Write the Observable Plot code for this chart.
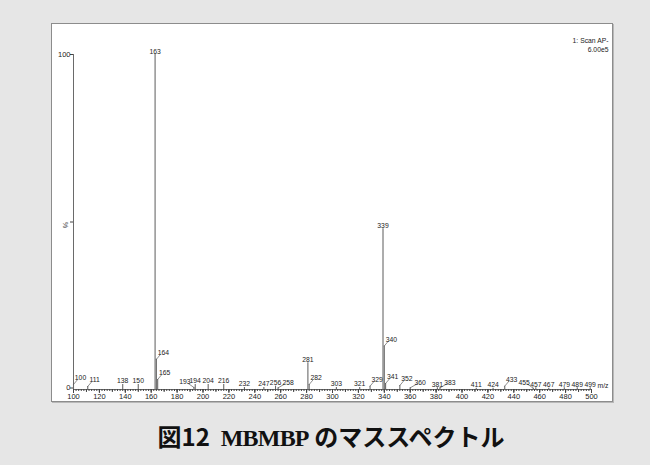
<!DOCTYPE html>
<html>
<head>
<meta charset="utf-8">
<script src="https://cdn.jsdelivr.net/npm/d3@7"></script>
<script src="https://cdn.jsdelivr.net/npm/@observablehq/plot@0.6"></script>
<style>
  html, body { margin: 0; padding: 0; }
  body { width: 650px; height: 465px; background: #e6e6e6; position: relative; overflow: hidden; }
  #panel {
    position: absolute; left: 51px; top: 23px; width: 560px; height: 377px;
    background: #fff; border: 1px solid #8c8c8c; box-shadow: 1px 1px 0 #b8b8b8;
  }
  #panel svg { display: block; }
  #title {
    position: absolute; left: 6px; top: 421px; width: 650px; text-align: center;
    font-family: "Noto Sans CJK JP", sans-serif; font-weight: 700; font-size: 24px; color: #111;
    line-height: 30px;
  }
  #title .lat { font-family: "Liberation Serif", serif; font-weight: 700; letter-spacing: -0.8px; }
</style>
</head>
<body>
<div id="panel"></div>
<div id="title">図12&nbsp;&nbsp;<span class="lat">MBMBP</span> のマススペクトル</div>
<script>
// Mass spectrum of MBMBP: m/z of each labelled peak and its relative intensity (%)
const mz = [100, 111, 138, 150, 163, 164, 165, 193, 194, 204, 216, 232, 247, 256, 258,
            281, 282, 303, 321, 329, 339, 340, 341, 352, 360, 381, 383, 411, 424, 433,
            455, 457, 467, 479, 489, 499];
const intensity = [1.5, 0.9, 1.5, 1.5, 100, 9, 3, 0.6, 1.5, 1.5, 1.5, 0.6, 0.6, 1, 0.5,
                   8, 1.5, 0.6, 0.6, 1, 48, 13, 1.8, 1.2, 0.5, 0.5, 0.5, 0.4, 0.4, 1,
                   0.4, 0.5, 0.4, 0.5, 0.5, 0.5];
const xTicks = [100, 120, 140, 160, 180, 200, 220, 240, 260, 280, 300,
                320, 340, 360, 380, 400, 420, 440, 460, 480, 500];
const yTicks = [0, 100];
const scanInfo = ["1: Scan AP-", "6.00e5"];

const peaks = mz.map((m, i) => ({mz: m, value: intensity[i]}));

// peaks whose labels are pushed aside and joined to the peak by a short leader
const leadRight = new Set([100, 111, 164, 165, 282, 329, 340, 341, 352, 433]);
const leadFarRight = new Set([258, 360, 383]);
const leadLeft = new Set([193, 455]);
const isLed = d => leadRight.has(d.mz) || leadFarRight.has(d.mz) || leadLeft.has(d.mz);
const centred = peaks.filter(d => !isLed(d));
const right = peaks.filter(d => leadRight.has(d.mz));
const farRight = peaks.filter(d => leadFarRight.has(d.mz));
const left = peaks.filter(d => leadLeft.has(d.mz));

const line = {draw(context, l) { context.moveTo(0, 0); context.lineTo(0, -l); }};
const tickFont = {fontFamily: "Liberation Sans, Arial, sans-serif", fontSize: 7.5};
const font = {fontFamily: "Liberation Sans, Arial, sans-serif", fontSize: 6.8, fill: "#222"};
const leader = {x: "mz", y: "value", anchor: "start", shape: line, stroke: "#555", strokeWidth: 0.6};
const label = {x: "mz", y: "value", text: d => String(d.mz), lineAnchor: "bottom", ...font};

const chart = Plot.plot({
  width: 560,
  height: 377,
  marginLeft: 21,
  marginRight: 21,
  marginTop: 30,
  marginBottom: 12,
  style: {fontFamily: "Liberation Sans, Arial, sans-serif", fontSize: "7.5px", color: "#222", background: "#fff"},
  x: {domain: [100, 500]},
  y: {domain: [0, 100]},
  marks: [
    // minor and major ticks along m/z
    Plot.axisX({ticks: d3.range(100, 501, 2), tickSize: 2, tickFormat: () => "", label: null, stroke: "#444"}),
    Plot.axisX({ticks: d3.range(100, 501, 10), tickSize: 3, tickFormat: () => "", label: null, stroke: "#444"}),
    Plot.axisX({ticks: xTicks, tickSize: 4, tickPadding: 0, label: null, ...tickFont, fill: "#222", stroke: "#444"}),
    Plot.axisY({ticks: [100], tickSize: 3, tickPadding: 0, label: null, ...tickFont, fill: "#222", stroke: "#444"}),
    Plot.axisY({ticks: [0], tickSize: 3, tickPadding: 0, label: null, dy: -1.5, ...tickFont, fill: "#222", stroke: "#444"}),
    Plot.axisY({ticks: [50], tickSize: 3, tickFormat: () => "", label: null, stroke: "#444"}),
    Plot.text(["%"], {frameAnchor: "left", dx: -8, rotate: 90, ...font}),
    Plot.ruleY([0], {stroke: "#444", strokeWidth: 0.8}),
    Plot.ruleX([100], {y1: yTicks[0], y2: yTicks[1], stroke: "#444", strokeWidth: 0.8}),
    // spectrum lines
    Plot.ruleX(peaks, {x: "mz", y1: 0, y2: "value", stroke: "#6a6a6a", strokeWidth: 1.1}),
    // leaders
    Plot.vector(right, {...leader, length: 6, rotate: 40}),
    Plot.vector(farRight, {...leader, length: 8, rotate: 60}),
    Plot.vector(left, {...leader, length: 7, rotate: -55}),
    // peak labels
    Plot.text(centred, {...label, dy: -1}),
    Plot.text(right, {...label, dx: 7, dy: -4}),
    Plot.text(farRight, {...label, dx: 10, dy: -3}),
    Plot.text(left, {...label, dx: -9, dy: -3}),
    Plot.text(["m/z"], {frameAnchor: "bottom-right", textAnchor: "start", lineAnchor: "bottom", dx: 6, dy: -2, ...font}),
    Plot.text([scanInfo.join("\n")], {frameAnchor: "top-right", textAnchor: "end", lineAnchor: "top", lineHeight: 1.3, dx: 17, dy: -18, ...font})
  ]
});
document.getElementById("panel").appendChild(chart);
</script>
</body>
</html>
